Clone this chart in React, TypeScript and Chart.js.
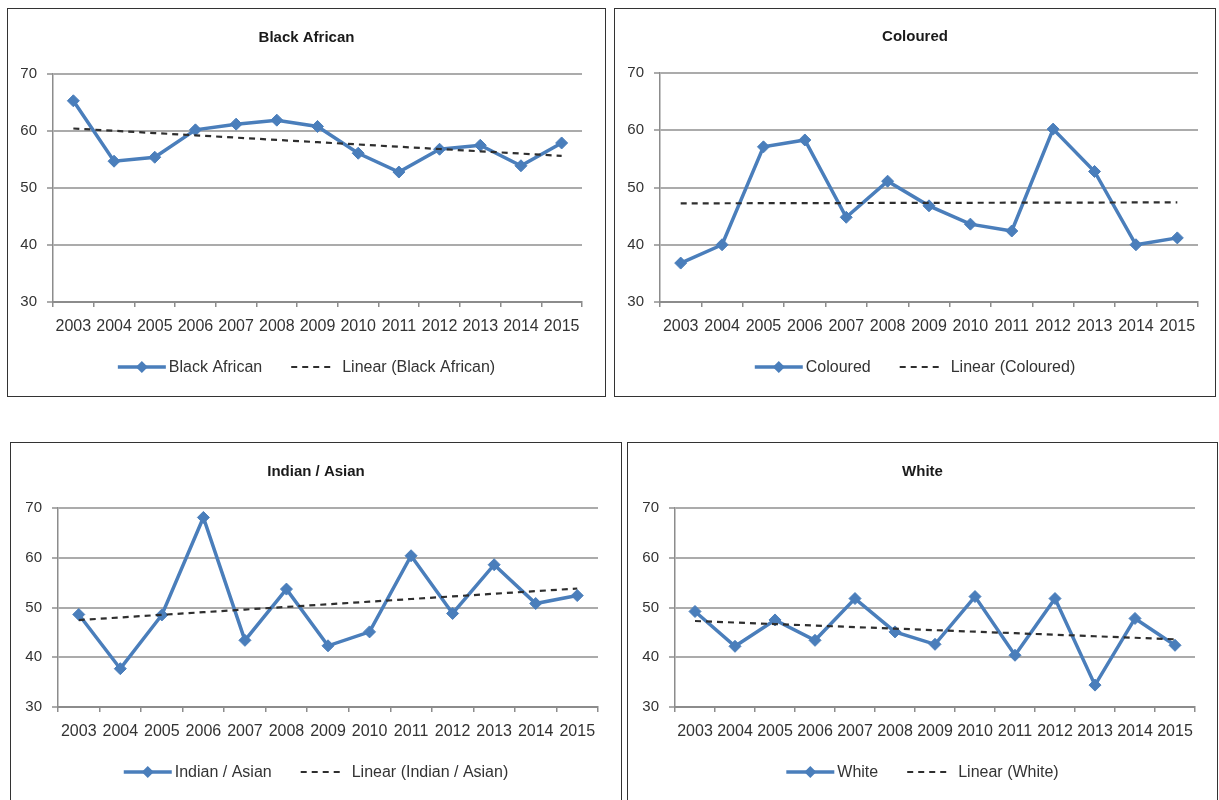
import React, { useEffect, useRef } from 'react';
import { Chart, registerables } from 'chart.js';

Chart.register(...registerables);

// ---------- data ----------
const years = ['2003', '2004', '2005', '2006', '2007', '2008', '2009', '2010', '2011', '2012', '2013', '2014', '2015'];
const yTickValues = [30, 40, 50, 60, 70];

const blackAfrican = [65.3, 54.7, 55.4, 60.2, 61.2, 61.9, 60.8, 56.1, 52.8, 56.8, 57.5, 53.9, 57.9];
const coloured = [36.8, 40.0, 57.1, 58.3, 44.8, 51.1, 46.8, 43.6, 42.4, 60.2, 52.8, 40.0, 41.2];
const indianAsian = [48.6, 37.7, 48.5, 68.1, 43.4, 53.7, 42.3, 45.1, 60.4, 48.8, 58.6, 50.8, 52.4];
const white = [49.2, 42.2, 47.5, 43.4, 51.8, 45.1, 42.6, 52.2, 40.4, 51.8, 34.4, 47.8, 42.4];

const seriesNames = ['Black African', 'Coloured', 'Indian / Asian', 'White'];

// Excel "Linear" trendline = least-squares fit of the series
function linearTrend(values: number[]): number[] {
  const n = values.length;
  const mx = (n - 1) / 2;
  const my = values.reduce((a, b) => a + b, 0) / n;
  let sxy = 0;
  let sxx = 0;
  values.forEach((v, i) => {
    sxy += (i - mx) * (v - my);
    sxx += (i - mx) * (i - mx);
  });
  const slope = sxx ? sxy / sxx : 0;
  return values.map((_, i) => my + slope * (i - mx));
}

// ---------- style ----------
const FONT = "'Liberation Sans', Arial, sans-serif";
const BLUE = '#4A7EBB';
const TREND = '#2e2e2e';
const GRID = '#ababab';
const TEXT = '#333333';
const X_AXIS_H = 40;

type Box = { x: number; y: number; w: number; h: number };
type Plot = { left: number; right: number; top: number; bottom: number };

function drawDiamond(ctx: CanvasRenderingContext2D, x: number, y: number, r: number) {
  ctx.beginPath();
  ctx.moveTo(x, y - r);
  ctx.lineTo(x + r, y);
  ctx.lineTo(x, y + r);
  ctx.lineTo(x - r, y);
  ctx.closePath();
  ctx.fill();
}

function Panel({ title, values, box, plot }: { title: string; values: number[]; box: Box; plot: Plot }) {
  const ref = useRef<HTMLCanvasElement | null>(null);
  const cw = box.w - 2;
  const ch = box.h - 2;

  useEffect(() => {
    if (!ref.current) return;
    const trend = linearTrend(values);

    const overlay = {
      id: 'overlay',
      afterDraw(chart: any) {
        const ctx: CanvasRenderingContext2D = chart.ctx;
        const W = chart.width;
        const area = chart.chartArea;
        ctx.save();
        // title
        ctx.font = `bold 15px ${FONT}`;
        ctx.fillStyle = '#1a1a1a';
        ctx.textAlign = 'center';
        ctx.textBaseline = 'middle';
        ctx.fillText(title, W / 2, area.top - 36);

        // legend
        ctx.font = `16px ${FONT}`;
        const ds = chart.data.datasets;
        const items = [ds[0], ds[1]];
        const lineW = [48, 42];
        const gapAfterSample = [3, 9];
        const gapBetween = 29;
        const textW = items.map((d: any) => ctx.measureText(d.label).width);
        const total = lineW[0] + gapAfterSample[0] + textW[0] + gapBetween + lineW[1] + gapAfterSample[1] + textW[1];
        let x = W / 2 - total / 2;
        const ly = area.bottom + 65;
        items.forEach((d: any, i: number) => {
          ctx.strokeStyle = d.borderColor;
          ctx.lineWidth = d.borderDash && d.borderDash.length ? 2.2 : 3.5;
          ctx.setLineDash(d.borderDash || []);
          ctx.beginPath();
          ctx.moveTo(x, ly);
          ctx.lineTo(x + lineW[i], ly);
          ctx.stroke();
          ctx.setLineDash([]);
          if (d.pointRadius) {
            ctx.fillStyle = d.backgroundColor;
            drawDiamond(ctx, x + lineW[i] / 2, ly, 6);
          }
          x += lineW[i] + gapAfterSample[i];
          ctx.fillStyle = TEXT;
          ctx.textAlign = 'left';
          ctx.fillText(d.label, x, ly + 1);
          x += textW[i] + gapBetween;
        });
        ctx.restore();
      },
    };

    const chart = new Chart(ref.current, {
      type: 'line',
      data: {
        labels: years,
        datasets: [
          {
            label: title,
            data: values,
            borderColor: BLUE,
            backgroundColor: BLUE,
            borderWidth: 3.5,
            pointStyle: 'rectRot',
            pointRadius: 6,
            pointBorderWidth: 1,
            pointBackgroundColor: BLUE,
            pointBorderColor: BLUE,
            tension: 0,
            order: 2,
          },
          {
            label: `Linear (${title})`,
            data: trend,
            borderColor: TREND,
            backgroundColor: TREND,
            borderWidth: 2.2,
            borderDash: [6, 5],
            pointRadius: 0,
            tension: 0,
            order: 1,
          },
        ],
      },
      options: {
        animation: false,
        responsive: false,
        maintainAspectRatio: false,
        events: [],
        layout: {
          padding: {
            left: 0,
            top: plot.top,
            right: cw - plot.right,
            bottom: ch - plot.bottom - X_AXIS_H,
          },
        },
        plugins: {
          legend: { display: false },
          title: { display: false },
          tooltip: { enabled: false },
        },
        scales: {
          x: {
            type: 'category',
            offset: true,
            grid: {
              display: true,
              offset: true,
              drawOnChartArea: false,
              drawTicks: true,
              tickLength: 5,
              color: '#8c8c8c',
              lineWidth: 1.5,
            },
            border: { display: true, color: '#8c8c8c', width: 2 },
            ticks: {
              font: { family: FONT, size: 16 },
              color: TEXT,
              padding: 10,
              maxRotation: 0,
              minRotation: 0,
              autoSkip: false,
            },
            afterFit: (s: any) => {
              s.height = X_AXIS_H;
            },
          },
          y: {
            min: 30,
            max: 70,
            afterBuildTicks: (axis: any) => {
              axis.ticks = yTickValues.map((v) => ({ value: v }));
            },
            grid: {
              color: GRID,
              lineWidth: 2,
              drawTicks: true,
              tickLength: 6,
            },
            border: { display: true, color: '#8c8c8c', width: 1.5 },
            ticks: {
              font: { family: FONT, size: 15 },
              color: TEXT,
              padding: 10,
            },
            afterFit: (s: any) => {
              s.width = plot.left;
            },
          },
        },
      },
      plugins: [overlay],
    } as any);

    return () => chart.destroy();
  }, [title, values]);

  return (
    <div
      style={{
        position: 'absolute',
        left: box.x,
        top: box.y,
        width: box.w,
        height: box.h,
        border: '1px solid #333',
        boxSizing: 'border-box',
        background: '#fff',
      }}
    >
      <canvas ref={ref} width={cw} height={ch} style={{ display: 'block', width: cw, height: ch }} />
    </div>
  );
}

export default function App() {
  return (
    <div
      style={{
        position: 'absolute',
        left: 0,
        top: 0,
        width: 1219,
        height: 800,
        overflow: 'hidden',
        background: '#fff',
      }}
    >
      <Panel
        title={seriesNames[0]}
        values={blackAfrican}
        box={{ x: 7, y: 8, w: 599, h: 389 }}
        plot={{ left: 45, right: 574, top: 65, bottom: 293 }}
      />
      <Panel
        title={seriesNames[1]}
        values={coloured}
        box={{ x: 614, y: 8, w: 602, h: 389 }}
        plot={{ left: 45, right: 583, top: 64, bottom: 293 }}
      />
      <Panel
        title={seriesNames[2]}
        values={indianAsian}
        box={{ x: 10, y: 442, w: 612, h: 370 }}
        plot={{ left: 47, right: 587, top: 65, bottom: 264 }}
      />
      <Panel
        title={seriesNames[3]}
        values={white}
        box={{ x: 627, y: 442, w: 591, h: 370 }}
        plot={{ left: 47, right: 567, top: 65, bottom: 264 }}
      />
    </div>
  );
}
